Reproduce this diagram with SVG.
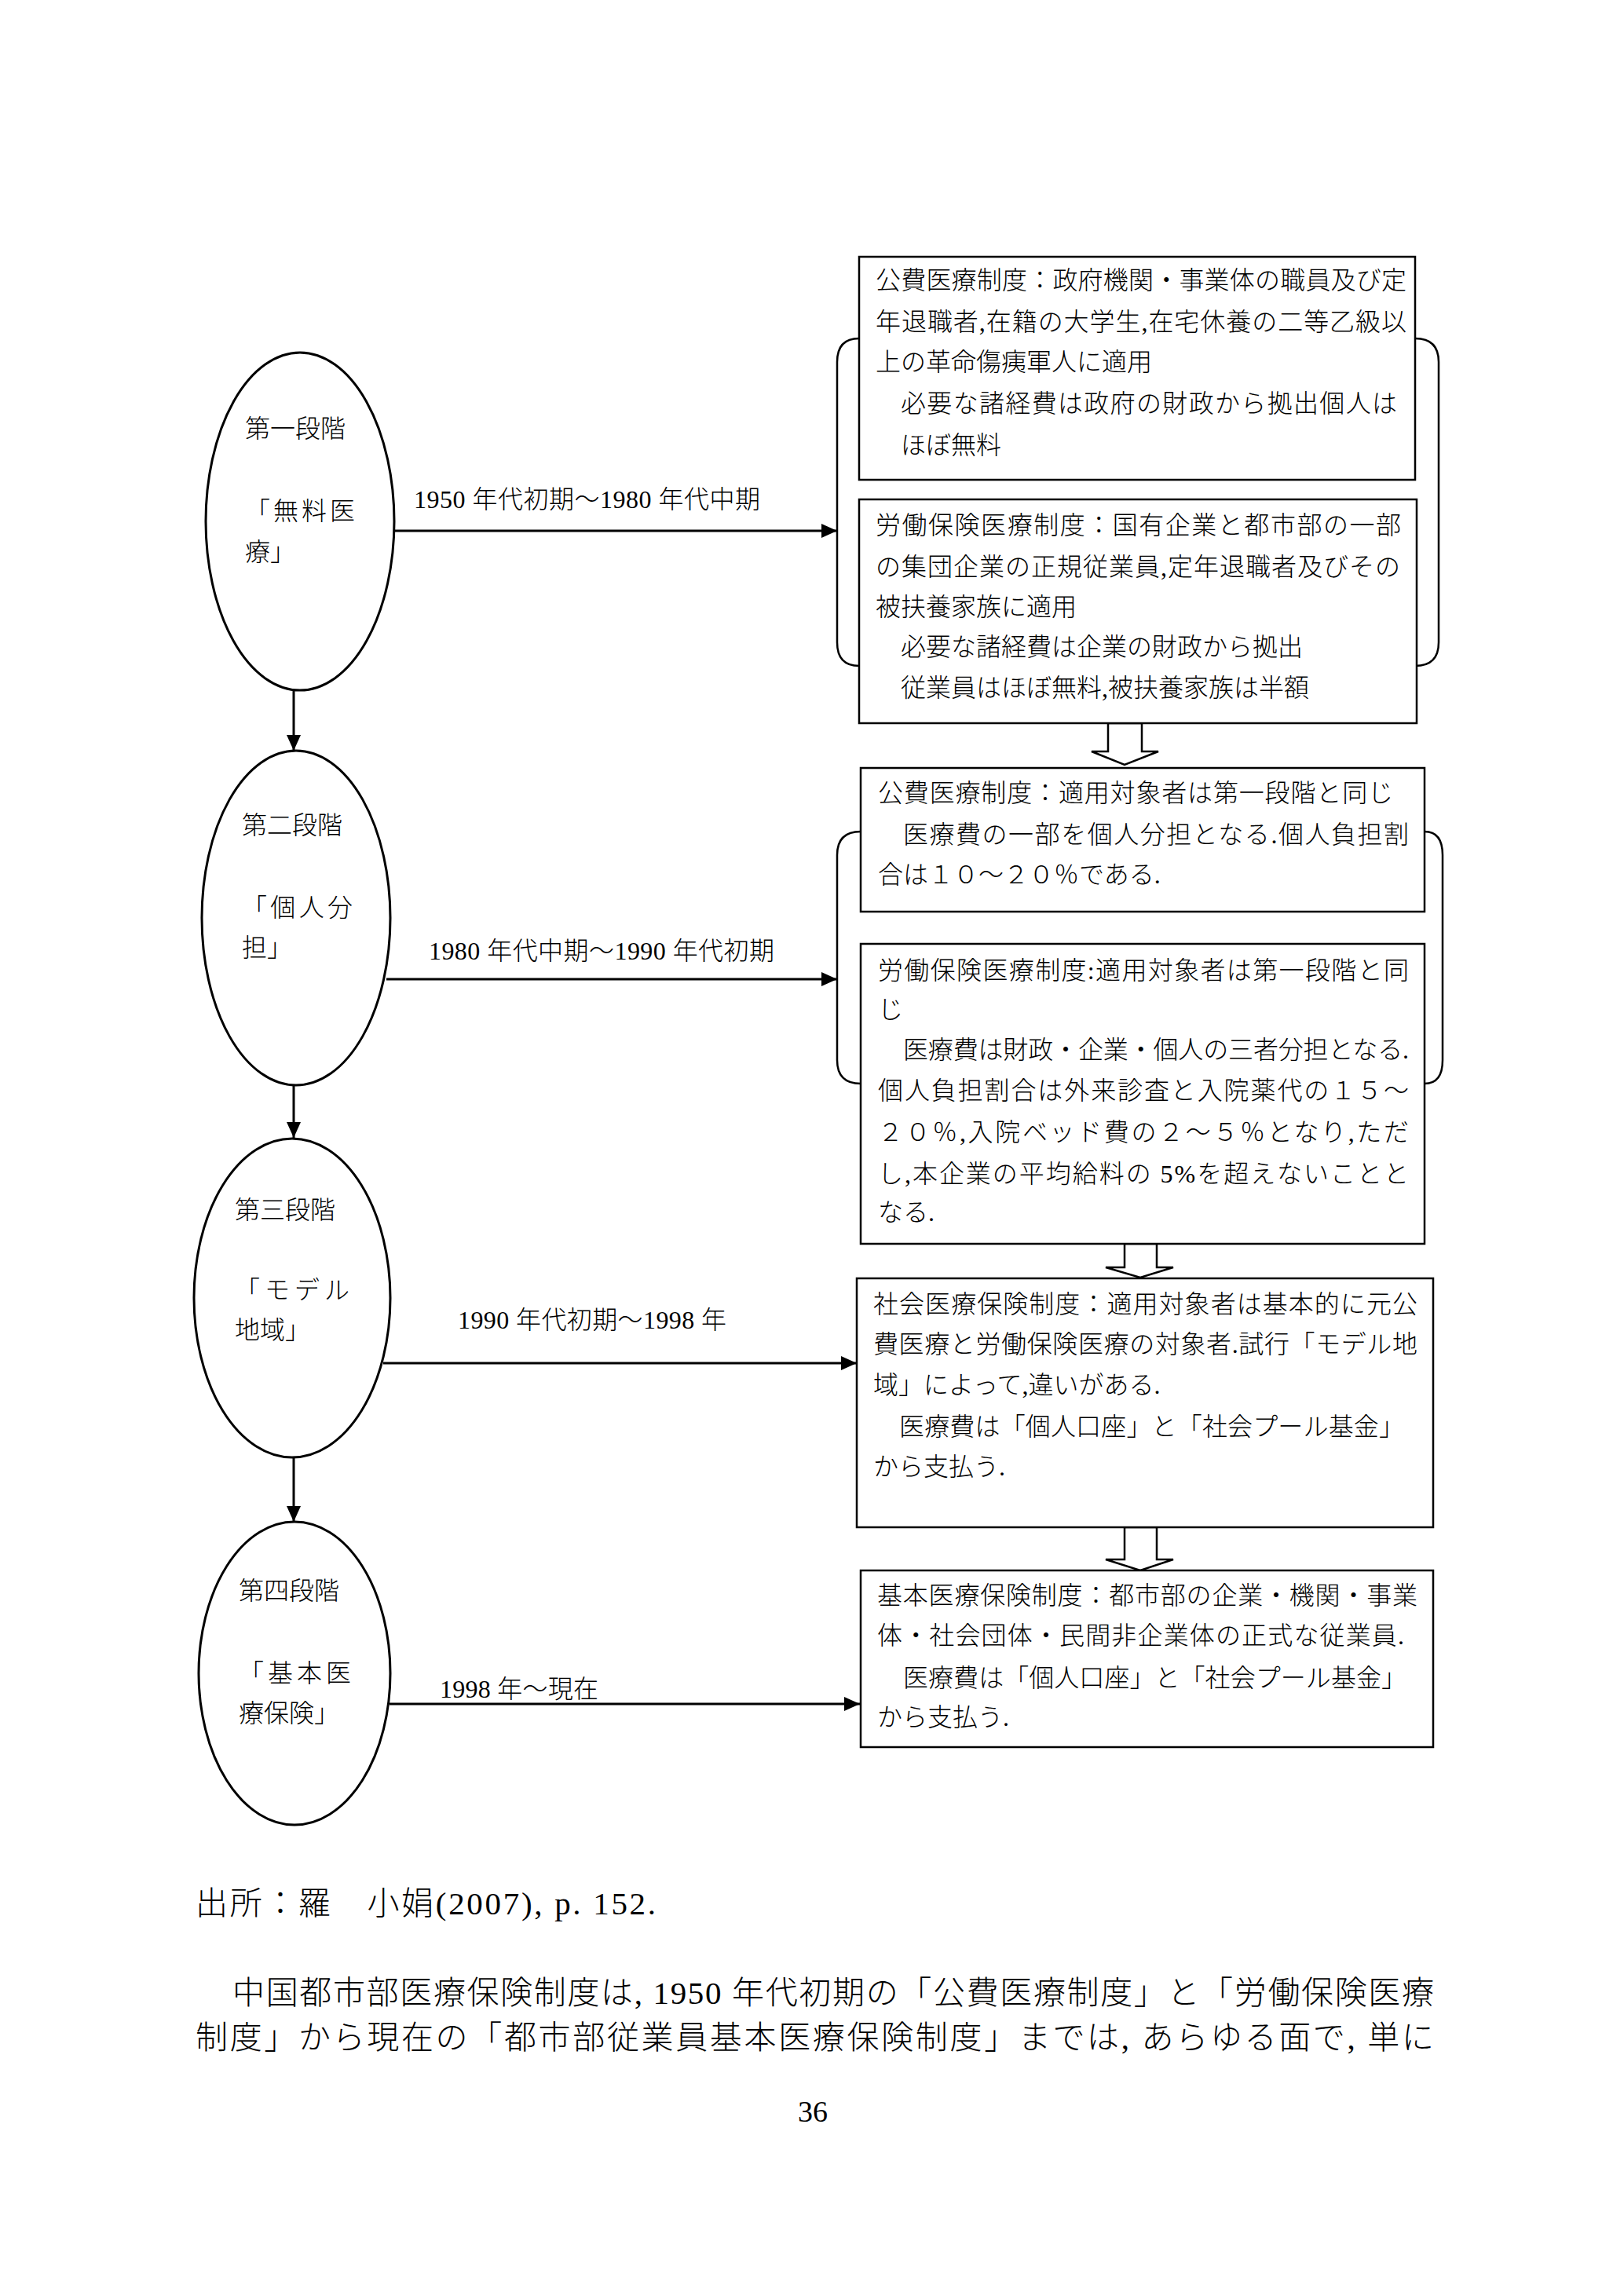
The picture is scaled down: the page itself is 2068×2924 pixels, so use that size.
<svg xmlns="http://www.w3.org/2000/svg" width="2068" height="2924" viewBox="0 0 2068 2924">
<style>
.t{font-family:'Liberation Serif','Noto Sans CJK JP',serif;font-size:32px;font-weight:300;fill:#000}
.b{font-family:'Liberation Serif','Noto Sans CJK JP',serif;font-weight:300;fill:#000}
.box{fill:#fff;stroke:#000;stroke-width:2.5}
.ell{fill:#fff;stroke:#000;stroke-width:3}
.conn{stroke:#000;stroke-width:3;fill:none}
.brace{stroke:#000;stroke-width:2.5;fill:none}
.hollow{fill:#fff;stroke:#000;stroke-width:2.5;stroke-linejoin:miter}
</style>
<defs>
<marker id="ah" markerUnits="userSpaceOnUse" markerWidth="20" markerHeight="18" refX="20" refY="9" orient="auto">
<path d="M0,0 L20,9 L0,18 Z" fill="#000"/>
</marker>
</defs>
<rect x="0" y="0" width="2068" height="2924" fill="#fff"/>

<g id="braces">
<path class="brace" d="M1094,431 Q1066,431 1066,461 L1066,818 Q1066,848 1094,848"/>
<path class="brace" d="M1802,431 Q1832,431 1832,461 L1832,818 Q1832,848 1802,848"/>
<path class="brace" d="M1096,1059 Q1066,1059 1066,1089 L1066,1350 Q1066,1380 1096,1380"/>
<path class="brace" d="M1814,1059 Q1837,1059 1837,1089 L1837,1350 Q1837,1380 1814,1380"/>
</g>

<g id="connectors">
<line class="conn" x1="502" y1="676" x2="1066" y2="676" marker-end="url(#ah)"/>
<line class="conn" x1="492" y1="1247" x2="1066" y2="1247" marker-end="url(#ah)"/>
<line class="conn" x1="488" y1="1736" x2="1091" y2="1736" marker-end="url(#ah)"/>
<line class="conn" x1="496" y1="2170" x2="1095" y2="2170" marker-end="url(#ah)"/>
<line class="conn" x1="374" y1="879" x2="374" y2="956" marker-end="url(#ah)"/>
<line class="conn" x1="374" y1="1382" x2="374" y2="1449" marker-end="url(#ah)"/>
<line class="conn" x1="374" y1="1856" x2="374" y2="1938" marker-end="url(#ah)"/>
<polygon class="hollow" points="1411,921 1454,921 1454,957 1475,957 1432,974 1390,957 1411,957"/>
<polygon class="hollow" points="1432,1584 1473,1584 1473,1614 1494,1614 1452,1627 1408,1614 1432,1614"/>
<polygon class="hollow" points="1432,1945 1473,1945 1473,1986 1494,1986 1452,2000 1408,1986 1432,1986"/>
<text class="t" x="527" y="647" textLength="441">1950 年代初期～1980 年代中期</text>
<text class="t" x="546" y="1222" textLength="440">1980 年代中期～1990 年代初期</text>
<text class="t" x="583" y="1692" textLength="342">1990 年代初期～1998 年</text>
<text class="t" x="560" y="2162" textLength="202">1998 年～現在</text>
</g>

<g id="stage1">
<ellipse class="ell" cx="382" cy="664" rx="120" ry="215"/>
<text class="t" x="312" y="557">第一段階</text>
<text class="t" x="312" y="662" textLength="140">「無料医</text>
<text class="t" x="312" y="714">療」</text>
</g>
<g id="stage2">
<ellipse class="ell" cx="377" cy="1169" rx="120" ry="213"/>
<text class="t" x="308" y="1062">第二段階</text>
<text class="t" x="308" y="1167" textLength="141">「個人分</text>
<text class="t" x="308" y="1218">担」</text>
</g>
<g id="stage3">
<ellipse class="ell" cx="372" cy="1653" rx="125" ry="203"/>
<text class="t" x="299" y="1552">第三段階</text>
<text class="t" x="299" y="1654" textLength="146">「モデル</text>
<text class="t" x="299" y="1705">地域」</text>
</g>
<g id="stage4">
<ellipse class="ell" cx="375" cy="2131" rx="122" ry="193"/>
<text class="t" x="304" y="2037">第四段階</text>
<text class="t" x="304" y="2142" textLength="143">「基本医</text>
<text class="t" x="304" y="2193">療保険」</text>
</g>

<g id="box-kouhi-1">
<rect class="box" x="1094" y="327" width="708" height="284"/>
<text class="t" x="1115" y="368" textLength="676">公費医療制度：政府機関・事業体の職員及び定</text>
<text class="t" x="1115" y="421" textLength="676">年退職者,在籍の大学生,在宅休養の二等乙級以</text>
<text class="t" x="1115" y="472">上の革命傷痍軍人に適用</text>
<text class="t" x="1147" y="525" textLength="632">必要な諸経費は政府の財政から拠出個人は</text>
<text class="t" x="1147" y="578">ほぼ無料</text>
</g>
<g id="box-roudou-1">
<rect class="box" x="1094" y="636" width="710" height="285"/>
<text class="t" x="1115" y="680" textLength="669">労働保険医療制度：国有企業と都市部の一部</text>
<text class="t" x="1115" y="733" textLength="668">の集団企業の正規従業員,定年退職者及びその</text>
<text class="t" x="1115" y="784">被扶養家族に適用</text>
<text class="t" x="1147" y="835">必要な諸経費は企業の財政から拠出</text>
<text class="t" x="1147" y="887">従業員はほぼ無料,被扶養家族は半額</text>
</g>
<g id="box-kouhi-2">
<rect class="box" x="1096" y="978" width="718" height="183"/>
<text class="t" x="1118" y="1021" textLength="656">公費医療制度：適用対象者は第一段階と同じ</text>
<text class="t" x="1150" y="1074" textLength="644">医療費の一部を個人分担となる.個人負担割</text>
<text class="t" x="1118" y="1125">合は１０～２０％である.</text>
</g>
<g id="box-roudou-2">
<rect class="box" x="1096" y="1202" width="718" height="382"/>
<text class="t" x="1118" y="1247" textLength="676">労働保険医療制度:適用対象者は第一段階と同</text>
<text class="t" x="1118" y="1297">じ</text>
<text class="t" x="1150" y="1348" textLength="644">医療費は財政・企業・個人の三者分担となる.</text>
<text class="t" x="1118" y="1400" textLength="676">個人負担割合は外来診査と入院薬代の１５～</text>
<text class="t" x="1118" y="1453" textLength="676">２０％,入院ベッド費の２～５％となり,ただ</text>
<text class="t" x="1118" y="1506" textLength="676">し,本企業の平均給料の 5%を超えないことと</text>
<text class="t" x="1118" y="1555">なる.</text>
</g>
<g id="box-shakai">
<rect class="box" x="1091" y="1628" width="734" height="317"/>
<text class="t" x="1112" y="1672" textLength="693">社会医療保険制度：適用対象者は基本的に元公</text>
<text class="t" x="1112" y="1723" textLength="693">費医療と労働保険医療の対象者.試行「モデル地</text>
<text class="t" x="1112" y="1775">域」によって,違いがある.</text>
<text class="t" x="1145" y="1828" textLength="643">医療費は「個人口座」と「社会プール基金」</text>
<text class="t" x="1112" y="1879">から支払う.</text>
</g>
<g id="box-kihon">
<rect class="box" x="1096" y="2000" width="729" height="225"/>
<text class="t" x="1117" y="2043" textLength="688">基本医療保険制度：都市部の企業・機関・事業</text>
<text class="t" x="1117" y="2094" textLength="671">体・社会団体・民間非企業体の正式な従業員.</text>
<text class="t" x="1150" y="2148" textLength="641">医療費は「個人口座」と「社会プール基金」</text>
<text class="t" x="1117" y="2198">から支払う.</text>
</g>

<g id="page-text">
<text class="b" x="249" y="2438" font-size="41" textLength="586">出所：羅　小娟(2007), p. 152.</text>
<text class="b" x="296" y="2552" font-size="41" textLength="1530">中国都市部医療保険制度は, 1950 年代初期の「公費医療制度」と「労働保険医療</text>
<text class="b" x="249" y="2609" font-size="41" textLength="1577">制度」から現在の「都市部従業員基本医療保険制度」までは, あらゆる面で, 単に</text>
<text class="b" x="1035" y="2702" font-size="38" text-anchor="middle">36</text>
</g>
</svg>
